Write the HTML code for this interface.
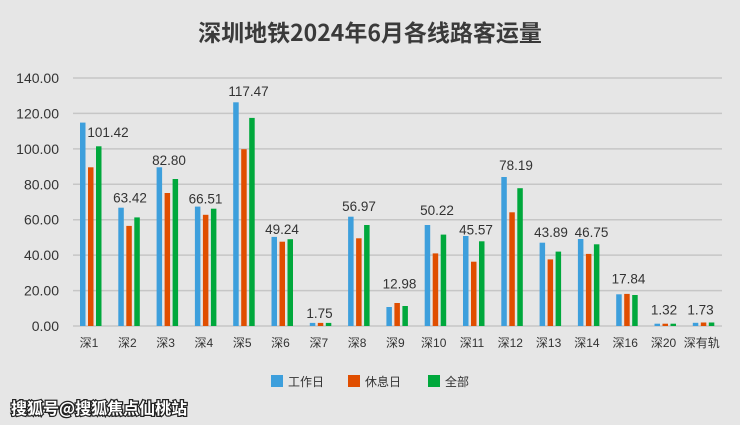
<!DOCTYPE html>
<html><head><meta charset="utf-8"><style>
html,body{margin:0;padding:0;background:#e6e6e6;}
svg{display:block;font-family:"Liberation Sans","Noto Sans CJK SC",sans-serif;}
</style></head><body>
<svg width="740" height="425" viewBox="0 0 740 425" xmlns="http://www.w3.org/2000/svg">
<rect width="740" height="425" fill="#e6e6e6"/>
<text x="370" y="41" text-anchor="middle" font-size="23" font-weight="bold" fill="#3a3a3a" font-family="'Noto Sans CJK SC',sans-serif">深圳地铁2024年6月各线路客运量</text>
<g stroke="#c6c6c6" stroke-width="1.5">
<line x1="73" x2="722" y1="78" y2="78"/><line x1="73" x2="722" y1="113.4" y2="113.4"/>
<line x1="73" x2="722" y1="148.9" y2="148.9"/><line x1="73" x2="722" y1="184.3" y2="184.3"/>
<line x1="73" x2="722" y1="219.7" y2="219.7"/><line x1="73" x2="722" y1="255.1" y2="255.1"/>
<line x1="73" x2="722" y1="290.6" y2="290.6"/><line x1="73" x2="722" y1="326" y2="326"/>
</g>
<g font-size="14" fill="#333" text-anchor="end">
<text x="59" y="83">140.00</text><text x="59" y="118.4">120.00</text><text x="59" y="153.9">100.00</text>
<text x="59" y="189.3">80.00</text><text x="59" y="224.7">60.00</text><text x="59" y="260.1">40.00</text>
<text x="59" y="295.6">20.00</text><text x="59" y="331">0.00</text>
</g>
<g fill="#3d9fdc">
<rect x="80" y="122.6" width="5.5" height="203.4"/>
<rect x="118.3" y="207.7" width="5.5" height="118.3"/>
<rect x="156.6" y="167.3" width="5.5" height="158.7"/>
<rect x="194.9" y="206.6" width="5.5" height="119.4"/>
<rect x="233.2" y="102.3" width="5.5" height="223.7"/>
<rect x="271.5" y="236.9" width="5.5" height="89.1"/>
<rect x="309.8" y="322.9" width="5.5" height="3.1"/>
<rect x="348.1" y="216.7" width="5.5" height="109.3"/>
<rect x="386.4" y="307" width="5.5" height="19"/>
<rect x="424.7" y="225" width="5.5" height="101"/>
<rect x="463" y="236" width="5.5" height="90"/>
<rect x="501.3" y="177" width="5.5" height="149"/>
<rect x="539.6" y="242.7" width="5.5" height="83.3"/>
<rect x="577.9" y="239" width="5.5" height="87"/>
<rect x="616.2" y="294.3" width="5.5" height="31.7"/>
<rect x="654.5" y="323.7" width="5.5" height="2.3"/>
<rect x="692.8" y="322.8" width="5.5" height="3.2"/>
</g>
<g fill="#e04e00">
<rect x="88" y="167.3" width="5.5" height="158.7"/>
<rect x="126.3" y="225.9" width="5.5" height="100.1"/>
<rect x="164.6" y="193" width="5.5" height="133"/>
<rect x="202.9" y="214.8" width="5.5" height="111.2"/>
<rect x="241.2" y="149.2" width="5.5" height="176.8"/>
<rect x="279.5" y="241.7" width="5.5" height="84.3"/>
<rect x="317.8" y="322.9" width="5.5" height="3.1"/>
<rect x="356.1" y="238.3" width="5.5" height="87.7"/>
<rect x="394.4" y="303" width="5.5" height="23"/>
<rect x="432.7" y="253.4" width="5.5" height="72.6"/>
<rect x="471" y="261.7" width="5.5" height="64.3"/>
<rect x="509.3" y="212.3" width="5.5" height="113.7"/>
<rect x="547.6" y="259.4" width="5.5" height="66.6"/>
<rect x="585.9" y="253.9" width="5.5" height="72.1"/>
<rect x="624.2" y="293.9" width="5.5" height="32.1"/>
<rect x="662.5" y="323.7" width="5.5" height="2.3"/>
<rect x="700.8" y="322.5" width="5.5" height="3.5"/>
</g>
<g fill="#00a83c">
<rect x="96" y="146.3" width="5.5" height="179.7"/>
<rect x="134.3" y="217.4" width="5.5" height="108.6"/>
<rect x="172.6" y="179" width="5.5" height="147"/>
<rect x="210.9" y="208.7" width="5.5" height="117.3"/>
<rect x="249.2" y="117.9" width="5.5" height="208.1"/>
<rect x="287.5" y="239.2" width="5.5" height="86.8"/>
<rect x="325.8" y="322.9" width="5.5" height="3.1"/>
<rect x="364.1" y="225" width="5.5" height="101"/>
<rect x="402.4" y="306" width="5.5" height="20"/>
<rect x="440.7" y="234.6" width="5.5" height="91.4"/>
<rect x="479" y="241.3" width="5.5" height="84.7"/>
<rect x="517.3" y="188.2" width="5.5" height="137.8"/>
<rect x="555.6" y="251.6" width="5.5" height="74.4"/>
<rect x="593.9" y="244.3" width="5.5" height="81.7"/>
<rect x="632.2" y="295" width="5.5" height="31"/>
<rect x="670.5" y="323.7" width="5.5" height="2.3"/>
<rect x="708.8" y="322.5" width="5.5" height="3.5"/>
</g>
<g font-size="13.5" fill="#333" text-anchor="middle">
<text x="108" y="137">101.42</text><text x="130" y="202.5">63.42</text><text x="169" y="165">82.80</text>
<text x="205.5" y="203.5">66.51</text><text x="248.5" y="96">117.47</text><text x="282" y="234">49.24</text>
<text x="319.5" y="318">1.75</text><text x="359" y="211">56.97</text><text x="399.5" y="288.5">12.98</text>
<text x="437" y="215">50.22</text><text x="476" y="234.5">45.57</text><text x="516" y="170">78.19</text>
<text x="551" y="237">43.89</text><text x="591.5" y="237">46.75</text><text x="628.5" y="283.5">17.84</text>
<text x="664" y="314.5">1.32</text><text x="700.5" y="314.5">1.73</text>
</g>
<g font-size="12" fill="#333" text-anchor="middle">
<text x="89" y="347">深1</text><text x="127.3" y="347">深2</text><text x="165.6" y="347">深3</text>
<text x="203.9" y="347">深4</text><text x="242.2" y="347">深5</text><text x="280.5" y="347">深6</text>
<text x="318.8" y="347">深7</text><text x="357.1" y="347">深8</text><text x="395.4" y="347">深9</text>
<text x="433.7" y="347">深10</text><text x="472" y="347">深11</text><text x="510.3" y="347">深12</text>
<text x="548.6" y="347">深13</text><text x="586.9" y="347">深14</text><text x="625.2" y="347">深16</text>
<text x="663.5" y="347">深20</text><text x="701.8" y="347">深有轨</text>
</g>
<g font-size="12" fill="#333">
<rect x="271" y="375" width="12" height="12" fill="#3d9fdc"/><text x="288" y="386">工作日</text>
<rect x="348" y="375" width="12" height="12" fill="#e04e00"/><text x="365" y="386">休息日</text>
<rect x="428" y="375" width="12" height="12" fill="#00a83c"/><text x="445" y="386">全部</text>
</g>
<text x="11" y="414" font-size="16" font-weight="bold" fill="#fff" stroke="#222" stroke-width="2.5" paint-order="stroke" font-family="'Noto Sans CJK SC',sans-serif">搜狐号@搜狐焦点仙桃站</text>
</svg>
</body></html>
